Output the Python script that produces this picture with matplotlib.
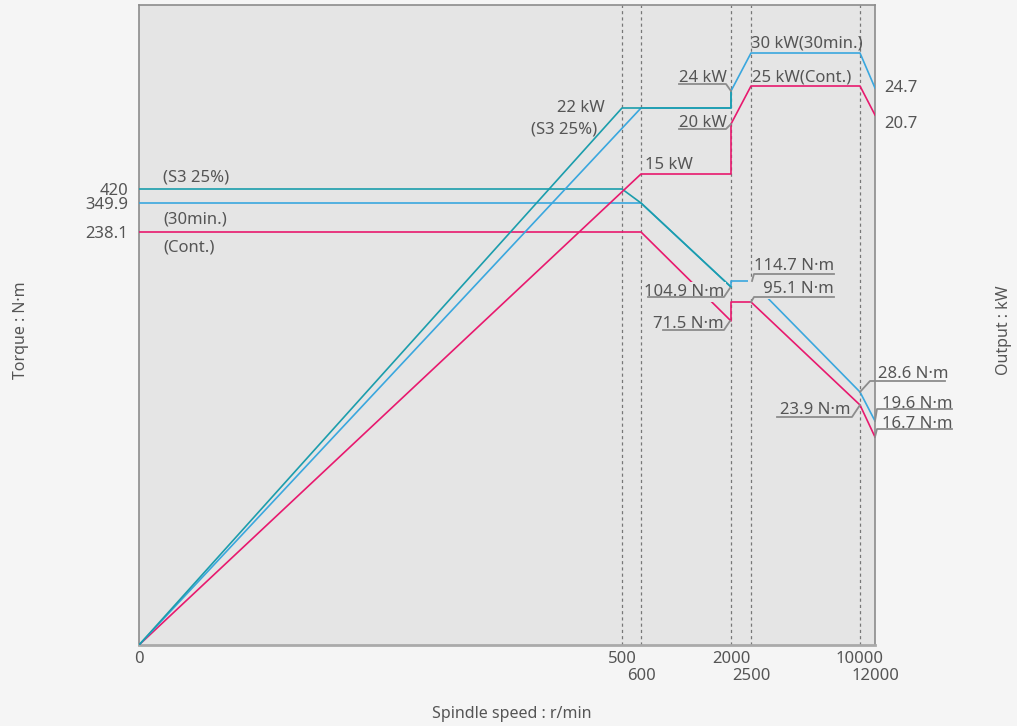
import numpy as np
import matplotlib
matplotlib.use('Agg')
import matplotlib.pyplot as plt
from matplotlib.lines import Line2D
from matplotlib.transforms import IdentityTransform

plt.rcParams['font.family'] = ['Noto Sans', 'DejaVu Sans']

# -----------------------------
# Data
# -----------------------------
# torque curves (N·m) vs spindle speed (r/min)
speed_s3_t = [0, 500, 600, 2000]
torque_s3 = [420, 420, 349.9, 104.9]
speed_30_t = [0, 600, 2000, 2000, 2500, 10000, 12000]
torque_30 = [349.9, 349.9, 104.9, 114.7, 114.7, 28.6, 19.6]
speed_cont_t = [0, 600, 2000, 2000, 2500, 10000, 12000]
torque_cont = [238.1, 238.1, 71.5, 95.1, 95.1, 23.9, 16.7]

# output curves (kW)
speed_s3_p = [0, 500, 2000, 2000]
power_s3 = [0, 22, 22, 24]
speed_30_p = [0, 600, 2000, 2000, 2500, 10000, 12000]
power_30 = [0, 22, 22, 24, 30, 30, 24.7]
speed_cont_p = [0, 600, 2000, 2000, 2500, 10000, 12000]
power_cont = [0, 15, 15, 20, 25, 25, 20.7]

speed_ticks = [0, 500, 2000, 10000]
speed_ticks2 = [600, 2500, 12000]
torque_ticks = [238.1, 349.9, 420]

# -----------------------------
# Schematic (piecewise) scales
# -----------------------------
X_VALS = [0, 500, 600, 2000, 2500, 10000, 12000]
X_POS = [0, 483, 502, 592, 612, 721, 736]
T_VALS = [0, 16.7, 19.6, 23.9, 28.6, 71.5, 95.1, 104.9, 114.7, 238.1, 349.9, 420, 600]
T_POS = [0, 208, 224, 240, 253, 324, 343, 358, 364, 413, 442, 456, 640]
P_VALS = [0, 15, 20, 20.7, 22, 24, 24.7, 25, 30, 40]
P_POS = [0, 471, 521, 530, 537, 554, 557, 559, 592, 640]


def piecewise(vals, pos):
    fwd = lambda v: np.interp(v, vals, pos)
    inv = lambda p: np.interp(p, pos, vals)
    return fwd, inv


BG = '#f5f5f5'
AXBG = '#e5e5e5'
TXT = '#555555'
C_S3 = '#1b9dac'
C_30 = '#3aa7de'
C_CONT = '#e8196e'

fig = plt.figure(figsize=(10.17, 7.26), dpi=100, facecolor=BG)
ax = fig.add_axes([139 / 1017, 1 - 645 / 726, 736 / 1017, 640 / 726])
ax.set_facecolor(AXBG)
ax.set_xscale('function', functions=piecewise(X_VALS, X_POS))
ax.set_yscale('function', functions=piecewise(T_VALS, T_POS))
ax.set_xlim(0, 12000)
ax.set_ylim(0, 600)

ax2 = ax.twinx()
ax2.set_yscale('function', functions=piecewise(P_VALS, P_POS))
ax2.set_ylim(0, 40)
ax2.set_yticks([])
for s in ax2.spines.values():
    s.set_visible(False)

for sp in [500, 600, 2000, 2500, 10000]:
    ax.axvline(sp, color='#777777', ls=(0, (2.5, 2.5)), lw=0.9, zorder=1)

# torque lines
ax.plot(speed_cont_t, torque_cont, color=C_CONT, lw=1.2, zorder=3)
ax.plot(speed_30_t, torque_30, color=C_30, lw=1.2, zorder=3)
ax.plot(speed_s3_t, torque_s3, color=C_S3, lw=1.2, zorder=3)

# output lines
ax2.plot(speed_cont_p, power_cont, color=C_CONT, lw=1.2, zorder=3)
ax2.plot(speed_30_p, power_30, color=C_30, lw=1.2, zorder=3)
ax2.plot(speed_s3_p, power_s3, color=C_S3, lw=1.2, zorder=3)

# spines
for k in ['left', 'top', 'right']:
    ax.spines[k].set_color('#8c8c8c')
    ax.spines[k].set_linewidth(1.2)
ax.spines['bottom'].set_color('#aaaaaa')
ax.spines['bottom'].set_linewidth(2)

# ticks
ax.set_yticks(torque_ticks)
ax.set_yticklabels(['238.1', '349.9', '420'])
ax.tick_params(axis='y', length=0, pad=8, labelsize=12, labelcolor=TXT)
ax.set_xticks(speed_ticks)
ax.set_xticklabels([str(v) for v in speed_ticks])
ax.set_xticks(speed_ticks2, minor=True)
ax.set_xticklabels([str(v) for v in speed_ticks2], minor=True)
ax.tick_params(axis='x', which='major', length=0, pad=4, labelsize=12, labelcolor=TXT)
ax.tick_params(axis='x', which='minor', length=0, pad=16.5, labelsize=12, labelcolor=TXT)

ax.set_xlabel('Spindle speed : r/min', fontsize=11.5, color=TXT)
ax.xaxis.set_label_coords(0.507, -0.095)
ax.set_ylabel('Torque : N·m', fontsize=11.5, color=TXT)
ax.yaxis.set_label_coords(-0.150, 0.492)
ax2.set_ylabel('Output : kW', fontsize=11.5, color=TXT, rotation=90)
ax2.yaxis.set_label_coords(1.165, 0.492)


def label(a, x, y, text, dx, dy, ha='left', box=False):
    # dx, dy in pixels from the data point, dy positive downward
    kw = {}
    if box:
        kw['bbox'] = dict(facecolor=AXBG, edgecolor='none', pad=1.5)
    a.annotate(text, xy=(x, y), xytext=(dx, -(dy + 2)), textcoords='offset pixels',
               ha=ha, va='center', fontsize=12, color=TXT, zorder=5,
               annotation_clip=False, **kw)


def leader(a, x, y, pts):
    px, py = a.transData.transform((x, y))
    xs = [px + p[0] for p in pts]
    ys = [py - p[1] for p in pts]
    fig.add_artist(Line2D(xs, ys, transform=IdentityTransform(),
                          color='#8c8c8c', lw=1.3, zorder=6))


# torque labels
label(ax, 0, 420, '(S3 25%)', 24, -13)
label(ax, 0, 349.9, '(30min.)', 24, 14)
label(ax, 0, 238.1, '(Cont.)', 24, 14)

label(ax, 2000, 104.9, '104.9 N·m', -7, 3, ha='right', box=True)
leader(ax, 2000, 104.9, [(-83, 10), (-7, 10), (-1, 1)])
label(ax, 2000, 71.5, '71.5 N·m', -7, 1, ha='right')
leader(ax, 2000, 71.5, [(-68, 9), (-7, 9), (-1, 0)])
label(ax, 2500, 114.7, '114.7 N·m', 83, -17, ha='right')
leader(ax, 2500, 114.7, [(83, -7), (3, -7), (1, 0)])
label(ax, 2500, 95.1, '   95.1 N·m', 83, -15, ha='right', box=True)
leader(ax, 2500, 95.1, [(83, -5), (3, -5), (0, 0)])
label(ax, 10000, 28.6, '28.6 N·m', 18, -20)
leader(ax, 10000, 28.6, [(85, -11), (10, -11), (0, 0)])
label(ax, 10000, 23.9, '23.9 N·m', -9, 3, ha='right')
leader(ax, 10000, 23.9, [(-83, 12), (-8, 12), (0, 0)])
label(ax, 12000, 19.6, '19.6 N·m', 7, -19)
leader(ax, 12000, 19.6, [(77, -12), (2, -12), (0, 0)])
label(ax, 12000, 16.7, '16.7 N·m', 7, -15)
leader(ax, 12000, 16.7, [(77, -8), (2, -8), (0, 0)])

# output labels
label(ax2, 500, 22, '22 kW', -17, -2, ha='right')
label(ax2, 500, 22, '(S3 25%)', -25, 20, ha='right')
label(ax2, 600, 15, '15 kW', 4, -11)
label(ax2, 2000, 24, '24 kW', -4, -15, ha='right')
leader(ax2, 2000, 24, [(-52, -7), (-5, -7), (0, 0)])
label(ax2, 2000, 20, '20 kW', -4, -3, ha='right')
leader(ax2, 2000, 20, [(-52, 5), (-5, 5), (0, 0)])
label(ax2, 2500, 30, '30 kW(30min.)', 0, -11)
label(ax2, 2500, 25, '25 kW(Cont.)', 1, -10)
label(ax2, 12000, 24.7, '24.7', 9, -2)
label(ax2, 12000, 20.7, '20.7', 9, 7)

fig.savefig('out.png', dpi=100, facecolor=BG)
